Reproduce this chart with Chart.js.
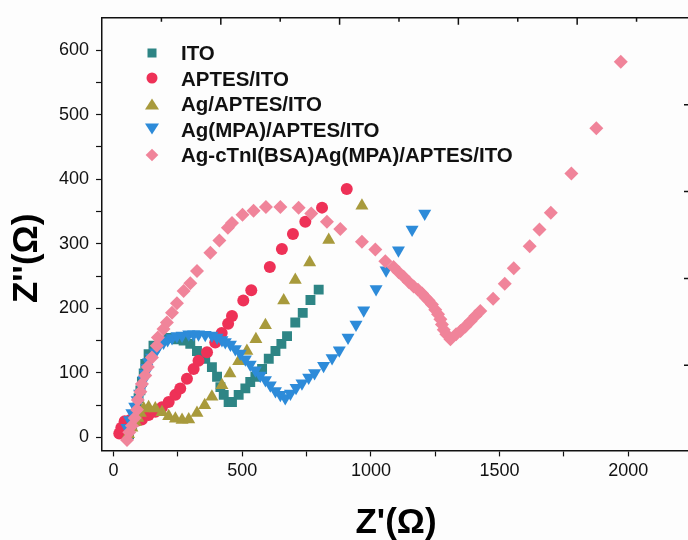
<!DOCTYPE html>
<html>
<head>
<meta charset="utf-8">
<script src="https://cdn.jsdelivr.net/npm/chart.js@4"></script>
<style>
	html, body { margin: 0; padding: 0; background: #fdfdfd; overflow: hidden; }
	#wrap { position: relative; width: 700px; height: 540px; }
	#legend { position: absolute; left: 140px; top: 40px; font: bold 20.5px "Liberation Sans", Arial, sans-serif; color: #111; }
	#legend ul { list-style: none; margin: 0; padding: 0; }
	#legend li { position: relative; height: 25.5px; line-height: 25.5px; padding-left: 41px; white-space: nowrap; }
	#legend li span { position: absolute; left: 12px; top: 50%; transform: translate(-50%, -50%); }
</style>
</head>
<body>
<div id="wrap">
	<canvas id="nyquist" width="700" height="540"></canvas>
	<div id="legend"></div>
</div>
<script>
// 시리즈 이름 / 색상
const seriesLabels = ['ITO', 'APTES/ITO', 'Ag/APTES/ITO', 'Ag(MPA)/APTES/ITO', 'Ag-cTnI(BSA)Ag(MPA)/APTES/ITO'];
const seriesColors = ['#2e8585', '#ee3157', '#a89a3c', '#2d8bd9', '#f0849a'];

// 축 눈금 값
const xTicks = [0, 250, 500, 750, 1000, 1250, 1500, 1750, 2000];
const yTicks = [0, 50, 100, 150, 200, 250, 300, 350, 400, 450, 500, 550, 600];

// [Z', Z''] 값
const itoPoints = [[60,5],[72,18],[82,32],[90,46],[97,61],[104,73],[110,86],[117,99],[123,114],[136,129],[155,142],[182,150],[214,154],[246,152],[272,150],[298,145],[324,134],[356,122],[382,109],[402,94],[415,78],[428,66],[447,55],[460,55],[486,66],[512,76],[531,86],[551,94],[577,106],[603,122],[629,134],[652,145],[674,157],[706,178],[735,193],[765,213],[797,229]];
const aptesPoints = [[22,6],[30,15],[43,25],[65,27],[91,26],[110,28],[136,35],[162,40],[188,47],[214,55],[240,66],[259,76],[285,91],[311,106],[330,119],[363,132],[395,147],[420,162],[445,176],[460,188],[504,212],[535,228],[607,264],[654,292],[697,315],[745,334],[810,356],[906,385]];
const agPoints = [[58,5],[71,15],[85,24],[94,30],[104,38],[117,45],[136,47],[162,45],[188,39],[214,33],[240,29],[266,27],[292,28],[324,38],[354,50],[382,63],[421,81],[452,99],[486,118],[518,134],[553,152],[590,174],[661,212],[706,244],[762,271],[836,306],[965,359]];
const mpaPoints = [[52,15],[62,27],[71,38],[82,48],[91,58],[101,68],[110,78],[117,89],[123,99],[129,108],[136,117],[147,124],[162,132],[175,141],[194,147],[210,151],[227,154],[246,157],[266,158],[292,160],[311,160],[330,160],[356,159],[382,158],[402,155],[421,151],[434,148],[454,144],[473,137],[492,130],[512,121],[531,113],[551,104],[570,96],[590,89],[609,81],[629,72],[648,66],[667,61],[687,68],[709,77],[732,84],[758,93],[781,100],[816,111],[849,123],[877,135],[911,155],[942,175],[972,197],[1020,230],[1059,259],[1107,290],[1160,322],[1209,347]];
const bsaPoints = [[52,-4],[61,8],[71,18],[82,30],[91,43],[94,58],[104,71],[110,83],[123,96],[133,109],[149,124],[168,142],[172,155],[194,168],[207,178],[227,193],[246,208],[272,227],[298,239],[324,258],[376,286],[411,305],[444,325],[460,332],[501,345],[544,351],[592,357],[648,357],[719,356],[768,347],[829,334],[881,323],[965,303],[1017,291],[1056,273],[1088,264],[1108,256],[1127,249],[1147,241],[1166,234],[1183,229],[1199,223],[1212,217],[1224,212],[1237,206],[1250,198],[1261,191],[1270,183],[1276,175],[1283,167],[1293,160],[1309,152],[1331,160],[1348,165],[1367,172],[1387,180],[1406,188],[1425,196],[1475,215],[1520,238],[1555,262],[1617,296],[1655,322],[1699,348],[1779,409],[1876,479],[1971,582]];

const allPoints = [itoPoints, aptesPoints, agPoints, mpaPoints, bsaPoints];
const pointStyles = ['rect', 'circle', 'triangle', 'triangle', 'rectRot'];
const pointRotations = [0, 0, 0, 180, 0];
const pointRadii = [7, 6, 7.5, 7.5, 7];

const fontFamily = '"Liberation Sans", Arial, sans-serif';

let toXY = function(arr) {
	return arr.map(function(p) { return { x: p[0], y: p[1] }; });
};

let datasets = allPoints.map(function(pts, i) {
	return {
		label: seriesLabels[i],
		data: toXY(pts),
		showLine: false,
		pointStyle: pointStyles[i],
		rotation: pointRotations[i],
		pointRadius: pointRadii[i],
		pointHoverRadius: pointRadii[i],
		backgroundColor: seriesColors[i],
		borderColor: seriesColors[i],
		borderWidth: 0,
		order: 5 - i // 뒤 시리즈가 위에 그려지도록
	};
});

// 눈금 위치를 배열 값으로 고정
let fixTicks = function(values) {
	return function(axis) {
		axis.ticks = values.map(function(v) { return { value: v }; });
	};
};

// 위/오른쪽 테두리와 안쪽 눈금
const framePlugin = {
	id: 'frame',
	afterDraw: function(chart) {
		let ctx = chart.ctx;
		let a = chart.chartArea;
		ctx.save();
		ctx.strokeStyle = '#111';
		ctx.lineWidth = 1.5;
		ctx.beginPath();
		ctx.moveTo(a.left, a.top);
		ctx.lineTo(a.right, a.top);
		ctx.lineTo(a.right, a.bottom);
		let stepX = (a.right - a.left) / 9.9;
		for (let i = 1; a.left + i * stepX < a.right - 2; i++) {
			let x = a.left + i * stepX;
			ctx.moveTo(x, a.top);
			ctx.lineTo(x, a.top + (i % 2 === 0 ? 7 : 4));
		}
		let stepY = (a.bottom - a.top) / 4.98;
		for (let j = 1; a.top + j * stepY < a.bottom - 2; j++) {
			let y = a.top + j * stepY;
			ctx.moveTo(a.right, y);
			ctx.lineTo(a.right - 6, y);
		}
		ctx.stroke();
		ctx.restore();
	}
};

let ctx = document.getElementById('nyquist');
let chart = new Chart(ctx, {
	type: 'scatter',
	data: { datasets: datasets },
	plugins: [framePlugin],
	options: {
		responsive: false,
		animation: false,
		layout: { padding: { left: 2, top: 13, right: 10, bottom: -4 } },
		plugins: {
			legend: { display: false },
			tooltip: { enabled: false }
		},
		scales: {
			x: {
				type: 'linear',
				min: -45,
				max: 2240,
				afterBuildTicks: fixTicks(xTicks),
				border: { color: '#111', width: 1.5 },
				grid: { drawOnChartArea: false, tickLength: 6, color: '#111', tickWidth: 1.2 },
				ticks: {
					autoSkip: false,
					maxRotation: 0,
					padding: 4,
					color: '#111',
					font: { family: fontFamily, size: 18 },
					callback: function(v) { return v % 500 === 0 ? v : ''; }
				},
				title: {
					display: true,
					text: "Z'(Ω)",
					color: '#000',
					font: { family: fontFamily, size: 35, weight: 'bold' },
					padding: { top: 16, bottom: 0 }
				}
			},
			y: {
				type: 'linear',
				min: -20,
				max: 650,
				afterBuildTicks: fixTicks(yTicks),
				border: { color: '#111', width: 1.5 },
				grid: { drawOnChartArea: false, tickLength: 6, color: '#111', tickWidth: 1.2 },
				ticks: {
					autoSkip: false,
					padding: 7,
					color: '#111',
					font: { family: fontFamily, size: 18 },
					callback: function(v) { return v % 100 === 0 ? v : ''; }
				},
				title: {
					display: true,
					text: "Z''(Ω)     ",
					color: '#000',
					font: { family: fontFamily, size: 35, weight: 'bold' },
					padding: { top: 4, bottom: 4 }
				}
			}
		}
	}
});

// 범례 (HTML)
let markerCss = [
	'width:9px;height:9px;background:' + seriesColors[0],
	'width:11px;height:11px;border-radius:50%;background:' + seriesColors[1],
	'width:0;height:0;border-left:7px solid transparent;border-right:7px solid transparent;border-bottom:11px solid ' + seriesColors[2],
	'width:0;height:0;border-left:7px solid transparent;border-right:7px solid transparent;border-top:11px solid ' + seriesColors[3],
	'width:9px;height:9px;background:' + seriesColors[4] + ';transform:translate(-50%,-50%) rotate(45deg)'
];
let tag = [];
tag.push('<ul>');
for (let i = 0; i < seriesLabels.length; i++) {
	tag.push('<li><span style="' + markerCss[i] + '"></span>' + seriesLabels[i] + '</li>');
}
tag.push('</ul>');
document.getElementById('legend').innerHTML = tag.join('');
</script>
</body>
</html>
